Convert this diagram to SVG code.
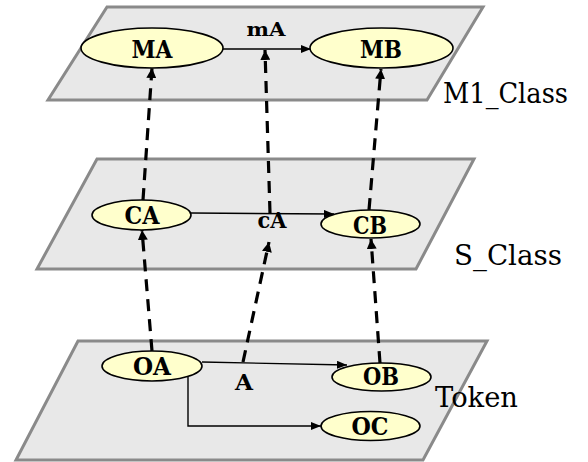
<svg xmlns="http://www.w3.org/2000/svg" width="588" height="462" viewBox="0 0 588 462">
  <style>
    .plane { fill: #e8e8e8; stroke: #8a8a8a; stroke-width: 3; }
    .node ellipse { fill: #ffffcc; stroke: #000; stroke-width: 1.6; }
    .node text { font-family: "DejaVu Serif", "Liberation Serif", serif; font-weight: bold; font-size: 25px; text-anchor: middle; fill: #000; }
    .elabel { font-family: "DejaVu Serif", "Liberation Serif", serif; font-weight: bold; fill: #000; text-anchor: middle; }
    .plabel { font-family: "DejaVu Serif", "Liberation Serif", serif; font-size: 27px; fill: #000; }
    .edge { fill: none; stroke: #000; stroke-width: 1.4; }
    .dash { fill: none; stroke: #000; stroke-width: 3.2; stroke-dasharray: 12 8; }
  </style>
  <defs>
    <marker id="arr" viewBox="0 0 10 8" refX="10" refY="4" markerWidth="10" markerHeight="8" markerUnits="userSpaceOnUse" orient="auto">
      <path d="M0,0 L10,4 L0,8 z" fill="#000"/>
    </marker>
    <marker id="arrB" viewBox="0 0 10 10" refX="10" refY="5" markerWidth="10" markerHeight="10" markerUnits="userSpaceOnUse" orient="auto">
      <path d="M0,0 L10,5 L0,10 z" fill="#000"/>
    </marker>
  </defs>

  <!-- layers -->
  <g id="layer-m1">
    <polygon class="plane" points="107,7 483,7 427,100 48,100"/>
    <text class="plabel" x="443" y="103" textLength="125" lengthAdjust="spacingAndGlyphs">M1_Class</text>
  </g>
  <g id="layer-s">
    <polygon class="plane" points="97,159 474,159 416,269 37,269"/>
    <text class="plabel" x="454" y="265" textLength="108" lengthAdjust="spacingAndGlyphs">S_Class</text>
  </g>
  <g id="layer-token">
    <polygon class="plane" points="78,341 487,341 423,460 16,460"/>
  </g>

  <!-- connectors -->
  <g id="connectors">
    <!-- same-layer associations -->
    <line class="edge" x1="223" y1="49" x2="311" y2="49" marker-end="url(#arr)"/>
    <line class="edge" x1="191" y1="213" x2="334" y2="214" marker-end="url(#arr)"/>
    <line class="edge" x1="202" y1="362" x2="347" y2="365" marker-end="url(#arr)"/>
    <polyline class="edge" points="188,377 188,426 321,426" marker-end="url(#arr)"/>
    <!-- instance-of links between layers -->
    <line class="dash" x1="152" y1="351" x2="142" y2="230" marker-end="url(#arrB)"/>
    <line class="dash" x1="143" y1="200" x2="152" y2="68" marker-end="url(#arrB)"/>
    <line class="dash" x1="243" y1="362" x2="269" y2="242" marker-end="url(#arrB)"/>
    <line class="dash" x1="270" y1="213" x2="265" y2="50" marker-end="url(#arrB)"/>
    <line class="dash" x1="380" y1="363" x2="371" y2="239" marker-end="url(#arrB)"/>
    <line class="dash" x1="369" y1="210" x2="381" y2="69" marker-end="url(#arrB)"/>
    <!-- edge labels -->
    <text class="elabel" x="266" y="36" font-size="19" textLength="39" lengthAdjust="spacingAndGlyphs">mA</text>
    <text class="elabel" x="272" y="228" font-size="23" textLength="29" lengthAdjust="spacingAndGlyphs">cA</text>
    <text class="elabel" x="244" y="390" font-size="23" textLength="18" lengthAdjust="spacingAndGlyphs">A</text>
  </g>

  <!-- nodes -->
  <g id="MA" class="node">
    <ellipse cx="152" cy="48" rx="71" ry="20"/>
    <text x="152" y="58" textLength="41" lengthAdjust="spacingAndGlyphs">MA</text>
  </g>
  <g id="MB" class="node">
    <ellipse cx="381.5" cy="48" rx="71.5" ry="20"/>
    <text x="381" y="58" textLength="42" lengthAdjust="spacingAndGlyphs">MB</text>
  </g>
  <g id="CA" class="node">
    <ellipse cx="141.5" cy="215" rx="49.5" ry="15"/>
    <text x="142" y="224" textLength="35" lengthAdjust="spacingAndGlyphs">CA</text>
  </g>
  <g id="CB" class="node">
    <ellipse cx="370.5" cy="224" rx="49.5" ry="14"/>
    <text x="370" y="234" textLength="34" lengthAdjust="spacingAndGlyphs">CB</text>
  </g>
  <g id="OA" class="node">
    <ellipse cx="152" cy="366" rx="50" ry="15"/>
    <text x="152" y="375" textLength="38" lengthAdjust="spacingAndGlyphs">OA</text>
  </g>
  <g id="OB" class="node">
    <ellipse cx="381.5" cy="377" rx="49.5" ry="14"/>
    <text x="381" y="385" textLength="36" lengthAdjust="spacingAndGlyphs">OB</text>
  </g>
  <g id="OC" class="node">
    <ellipse cx="370.5" cy="426" rx="49.5" ry="14.5"/>
    <text x="370" y="435" textLength="37" lengthAdjust="spacingAndGlyphs">OC</text>
  </g>

  <!-- layer name printed over the token layer -->
  <text class="plabel" x="435" y="407" textLength="83" lengthAdjust="spacingAndGlyphs">Token</text>
</svg>
